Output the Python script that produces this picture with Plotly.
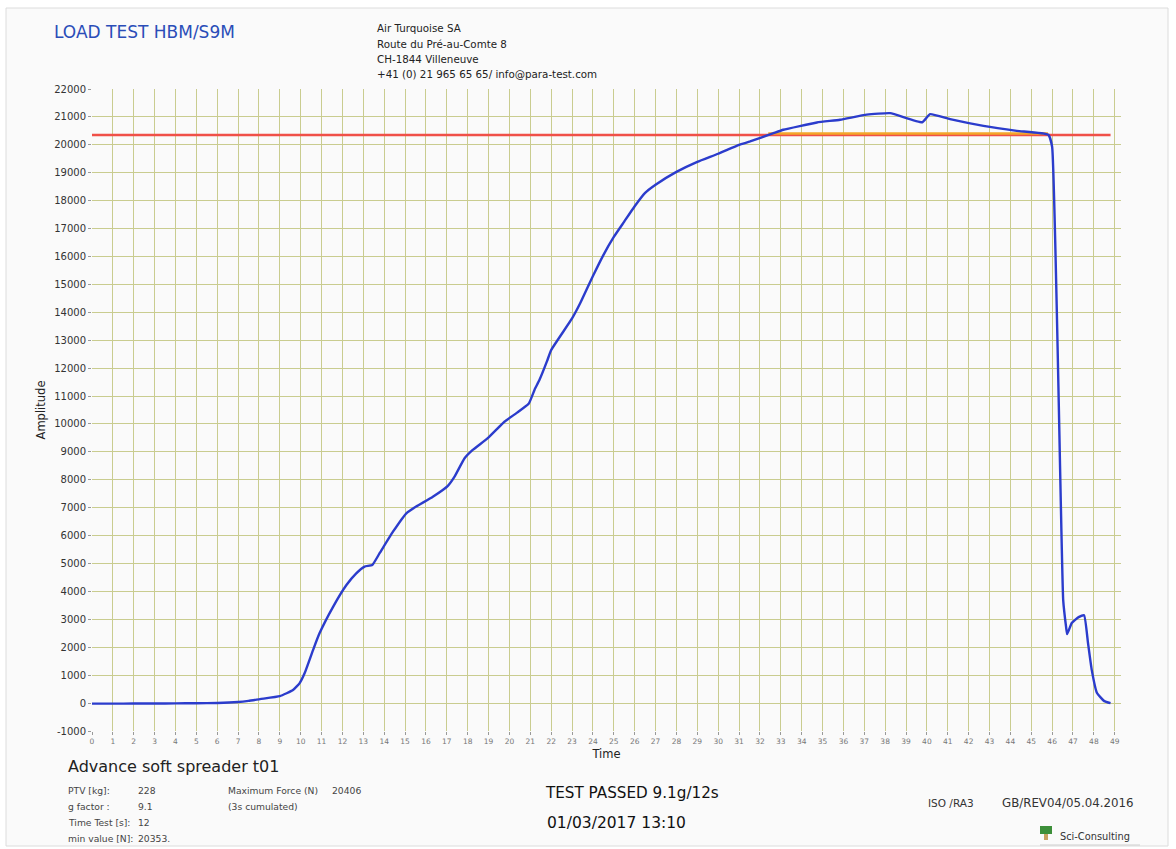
import plotly.graph_objects as go

# ---------------- data ----------------
time_s = [0, 1, 2, 3, 4, 5, 6, 7, 7.5, 8.05, 9.0, 9.63, 9.95, 10.19, 10.59, 10.9,
          11.55, 12.19, 12.66, 13.06, 13.43, 13.78, 14.42, 15.06, 15.53, 16.33,
          17.05, 17.37, 17.85, 18.24, 18.96, 19.76, 20.32, 20.92, 21.2, 21.44,
          21.8, 22.0, 23.0, 23.4, 24.0, 24.5, 25.0, 25.5, 26.0, 26.5, 27.0, 28.0,
          29.0, 30.0, 31.0, 31.53, 32.65, 33.12, 34.73, 35.84, 37.12, 38.24,
          39.78, 40.15, 41.11, 42.71, 44.31, 45.82, 46.0, 46.53, 46.67, 46.72,
          46.94, 47.27, 47.53, 47.72, 47.9, 48.15, 48.5, 48.8]
amplitude = [-20, -20, -15, -15, -10, -5, 5, 40, 80, 143, 250, 466, 717, 1075, 1900, 2500,
             3450, 4230, 4650, 4890, 4950, 5370, 6140, 6800, 7040, 7390,
             7780, 8110, 8770, 9070, 9490, 10080, 10380, 10720, 11220, 11580,
             12250, 12650, 13780, 14340, 15300, 16050, 16700, 17250, 17800, 18280, 18570, 19030,
             19390, 19680, 20000, 20120, 20420, 20540, 20800, 20900, 21080, 21135,
             20810, 21100, 20920, 20680, 20500, 20360, 19930, 3700, 2720, 2470,
             2870, 3080, 3150, 2150, 1180, 360, 70, 0]

min_value = 20353          # red reference line
max_force = 20406          # orange (3 s cumulated) line
red_span = [0, 48.8]
orange_span = [32.4, 45.8]

x_ticks = list(range(0, 50))
y_ticks = list(range(-1000, 22001, 1000))

# ---------------- layout geometry ----------------
W, H = 1176, 849
L, R, T, B = 92, 55, 89, 118
PW, PH = W - L - R, H - T - B


def px(x):
    return (x - L) / PW


def py(y):
    return 1 - (y - T) / PH


FONT = "DejaVu Sans"

fig = go.Figure()

fig.add_trace(go.Scatter(x=red_span, y=[min_value, min_value], mode="lines",
                         line=dict(color="#f05048", width=2.5), hoverinfo="skip"))
fig.add_trace(go.Scatter(x=orange_span, y=[max_force, max_force], mode="lines",
                         line=dict(color="#f4a62a", width=2.5), hoverinfo="skip"))
fig.add_trace(go.Scatter(x=time_s, y=amplitude, mode="lines",
                         line=dict(color="#2b3ccc", width=2.4, shape="spline", smoothing=0.4)))

shapes = [
    dict(type="rect", xref="paper", yref="paper", x0=px(6), x1=px(1168), y0=py(846), y1=py(8),
         fillcolor="#fafafa", line=dict(color="#dcdcdc", width=1), layer="below"),
    # logo
    dict(type="rect", xref="paper", yref="paper", x0=px(1040), x1=px(1052), y0=py(834), y1=py(826),
         fillcolor="#3d8f3a", line=dict(width=0)),
    dict(type="rect", xref="paper", yref="paper", x0=px(1044), x1=px(1048), y0=py(840), y1=py(834),
         fillcolor="#c8a060", line=dict(width=0)),
    dict(type="line", xref="paper", yref="paper", x0=px(1040), x1=px(1140), y0=py(845), y1=py(845),
         line=dict(color="#cfcfcf", width=1)),
]

annotations = []


def txt(x, y, s, size, color="#222", anchor="left", **kw):
    annotations.append(dict(x=px(x), y=py(y), xref="paper", yref="paper", text=s,
                            showarrow=False, xanchor=anchor, yanchor="middle",
                            font=dict(family=FONT, size=size, color=color), **kw))


txt(52, 32, "LOAD TEST HBM/S9M", 17, "#2a4db8")
txt(375, 28, "Air Turquoise SA", 10.3)
txt(375, 44, "Route du Pré-au-Comte 8", 10.3)
txt(375, 59, "CH-1844 Villeneuve", 10.3)
txt(375, 74, "+41 (0) 21 965 65 65/ info@para-test.com", 10.3)

txt(66, 766, "Advance soft spreader t01", 16)
txt(66, 790, "PTV [kg]:", 9.2, "#444")
txt(136, 790, "228", 9.2, "#444")
txt(66, 806, "g factor :", 9.2, "#444")
txt(136, 806, "9.1", 9.2, "#444")
txt(66, 822, "Time Test [s]:", 9.2, "#444")
txt(136, 822, "12", 9.2, "#444")
txt(66, 838, "min value [N]:", 9.2, "#444")
txt(136, 838, "20353.", 9.2, "#444")
txt(226, 790, "Maximum Force (N)", 9.2, "#444")
txt(330, 790, "20406", 9.2, "#444")
txt(226, 806, "(3s cumulated)", 9.2, "#444")

txt(543, 793, "TEST PASSED 9.1g/12s", 15.2, "#111")
txt(545, 823, "01/03/2017 13:10", 15.5, "#111")
txt(926, 803, "ISO /RA3", 10.5, "#333")
txt(1000, 803, "GB/REV04/05.04.2016", 11.8, "#333")
txt(1058, 836, "Sci-Consulting", 9.8, "#333")

fig.update_layout(
    width=W, height=H,
    margin=dict(l=L, r=R, t=T, b=B),
    paper_bgcolor="white",
    plot_bgcolor="rgba(0,0,0,0)",
    showlegend=False,
    font=dict(family=FONT),
    shapes=shapes,
    annotations=annotations,
    xaxis=dict(range=[0, 49.3], tickvals=x_ticks, ticktext=[str(v) for v in x_ticks],
               showgrid=True, gridcolor="#c9cc8f", gridwidth=1.2, zeroline=False,
               showline=False, ticks="outside", ticklen=3, tickcolor="#999",
               tickfont=dict(family=FONT, size=7.5, color="#777"),
               title=dict(text="Time", font=dict(family=FONT, size=11.5, color="#222"), standoff=4)),
    yaxis=dict(range=[-1000, 22000], tickvals=y_ticks, ticktext=[str(v) for v in y_ticks],
               showgrid=True, gridcolor="#c9cc8f", gridwidth=1.2, zeroline=False,
               showline=False, ticks="outside", ticklen=3, tickcolor="#999",
               tickfont=dict(family=FONT, size=10, color="#333"),
               title=dict(text="Amplitude", font=dict(family=FONT, size=11.5, color="#222"), standoff=6)),
)

fig.write_html("out.html", config={"displayModeBar": False},
               post_script="document.body.style.margin='0';document.body.style.overflow='hidden';")
